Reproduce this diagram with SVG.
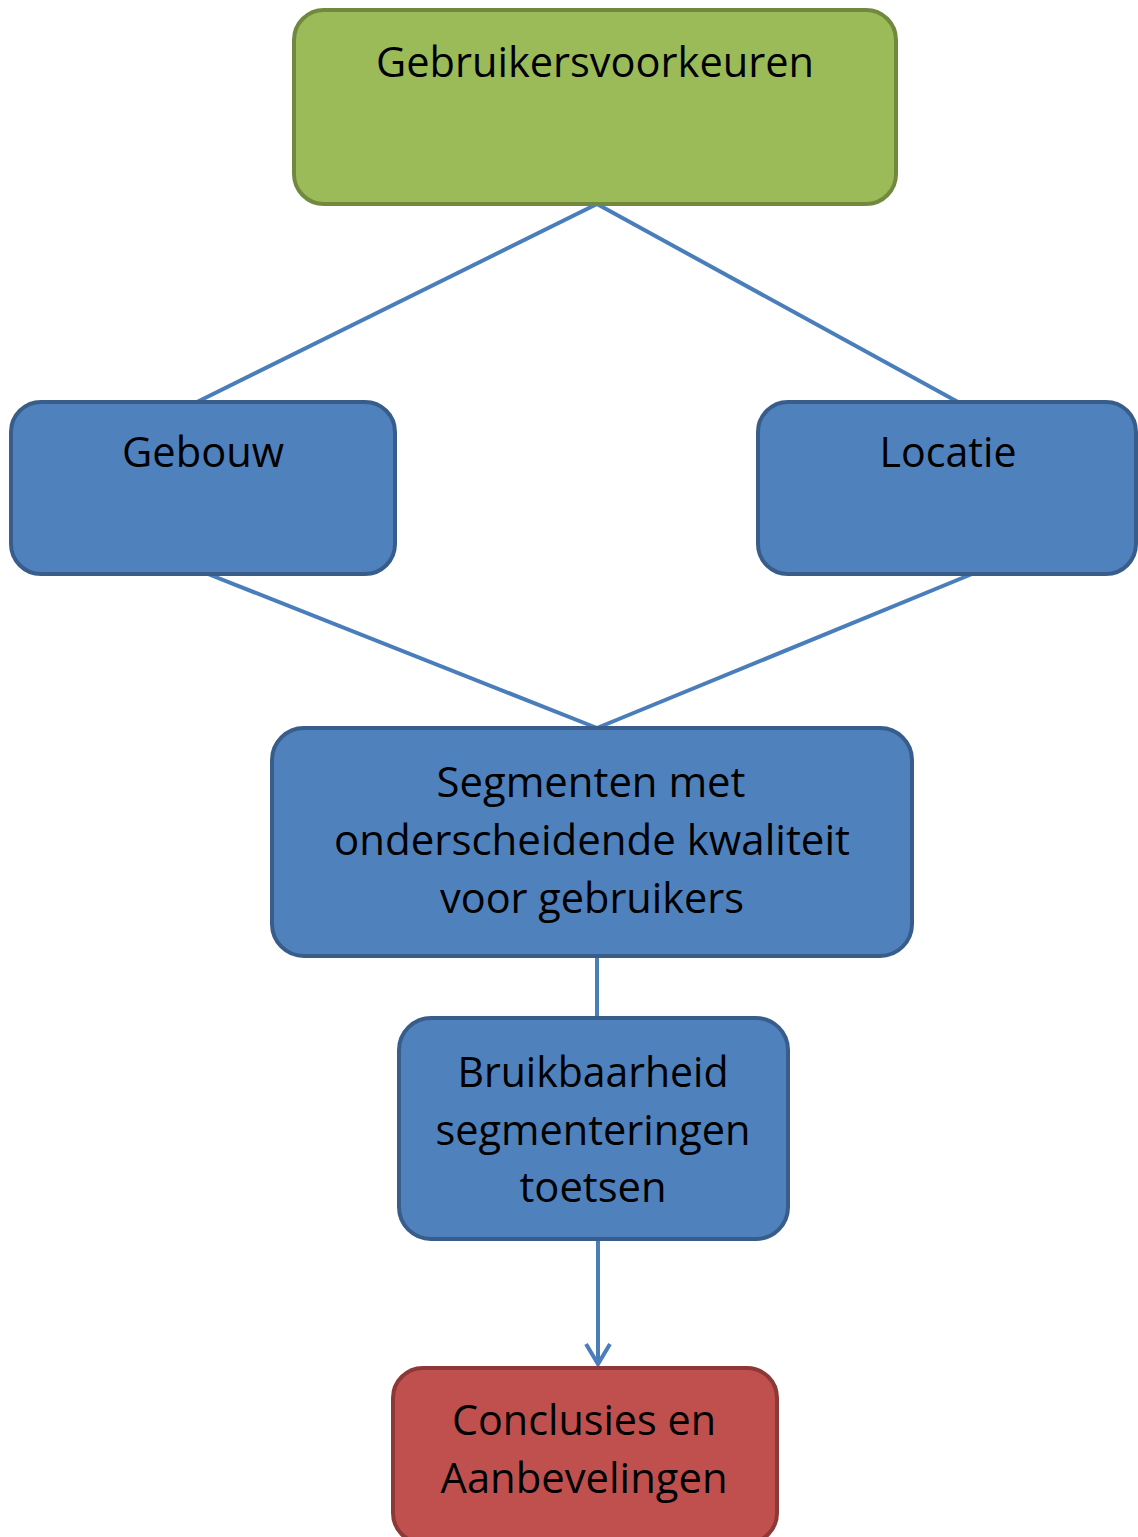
<svg xmlns="http://www.w3.org/2000/svg" width="1138" height="1537" viewBox="0 0 1138 1537">
<style>
.t{font-family:"Open Sans","Noto Sans","Liberation Sans",sans-serif;font-size:42px;fill:#000;text-anchor:middle}
.g{fill:#9bbb59;stroke:#71893f;stroke-width:4}
.b{fill:#4f81bd;stroke:#385d8a;stroke-width:4}
.r{fill:#c0504d;stroke:#8c3836;stroke-width:4}
.c{stroke:#4a7ebb;stroke-width:4;fill:none}
</style>
<defs>
<marker id="arr" markerWidth="12" markerHeight="12" refX="6" refY="10" orient="auto" markerUnits="userSpaceOnUse" viewBox="0 0 12 12">
<path d="M1,1 L6,10 L11,1" fill="none" stroke="#4a7ebb" stroke-width="4"/>
</marker>
</defs>
<g id="connectors">
<line class="c" x1="597" y1="204" x2="197" y2="402"/>
<line class="c" x1="597" y1="204" x2="958" y2="402"/>
<line class="c" x1="208" y1="574" x2="597" y2="728"/>
<line class="c" x1="972" y1="574" x2="597" y2="728"/>
<line class="c" x1="597" y1="956" x2="597" y2="1018"/>
<line class="c" x1="598" y1="1239" x2="598" y2="1364"/>
<path class="c" d="M586,1344 L598,1364 L610,1344"/>
</g>
<g id="n1">
<rect class="g" x="294" y="10" width="602" height="194" rx="30"/>
<text class="t" x="595" y="77" textLength="438" lengthAdjust="spacingAndGlyphs">Gebruikersvoorkeuren</text>
</g>
<g id="n2">
<rect class="b" x="11" y="402" width="384" height="172" rx="30"/>
<text class="t" x="203" y="467" textLength="162" lengthAdjust="spacingAndGlyphs">Gebouw</text>
</g>
<g id="n3">
<rect class="b" x="758" y="402" width="378" height="172" rx="30"/>
<text class="t" x="948" y="467" textLength="137" lengthAdjust="spacingAndGlyphs">Locatie</text>
</g>
<g id="n4">
<rect class="b" x="272" y="728" width="640" height="228" rx="32"/>
<text class="t" x="591" y="797" textLength="309" lengthAdjust="spacingAndGlyphs">Segmenten met</text>
<text class="t" x="592" y="855" textLength="516" lengthAdjust="spacingAndGlyphs">onderscheidende kwaliteit</text>
<text class="t" x="592" y="913" textLength="304" lengthAdjust="spacingAndGlyphs">voor gebruikers</text>
</g>
<g id="n5">
<rect class="b" x="399" y="1018" width="389" height="221" rx="32"/>
<text class="t" x="593" y="1087" textLength="271" lengthAdjust="spacingAndGlyphs">Bruikbaarheid</text>
<text class="t" x="593" y="1145" textLength="315" lengthAdjust="spacingAndGlyphs">segmenteringen</text>
<text class="t" x="593" y="1202" textLength="147" lengthAdjust="spacingAndGlyphs">toetsen</text>
</g>
<g id="n6">
<rect class="r" x="393" y="1368" width="384" height="175" rx="30"/>
<text class="t" x="584" y="1435" textLength="264" lengthAdjust="spacingAndGlyphs">Conclusies en</text>
<text class="t" x="584" y="1493" textLength="287" lengthAdjust="spacingAndGlyphs">Aanbevelingen</text>
</g>
</svg>
